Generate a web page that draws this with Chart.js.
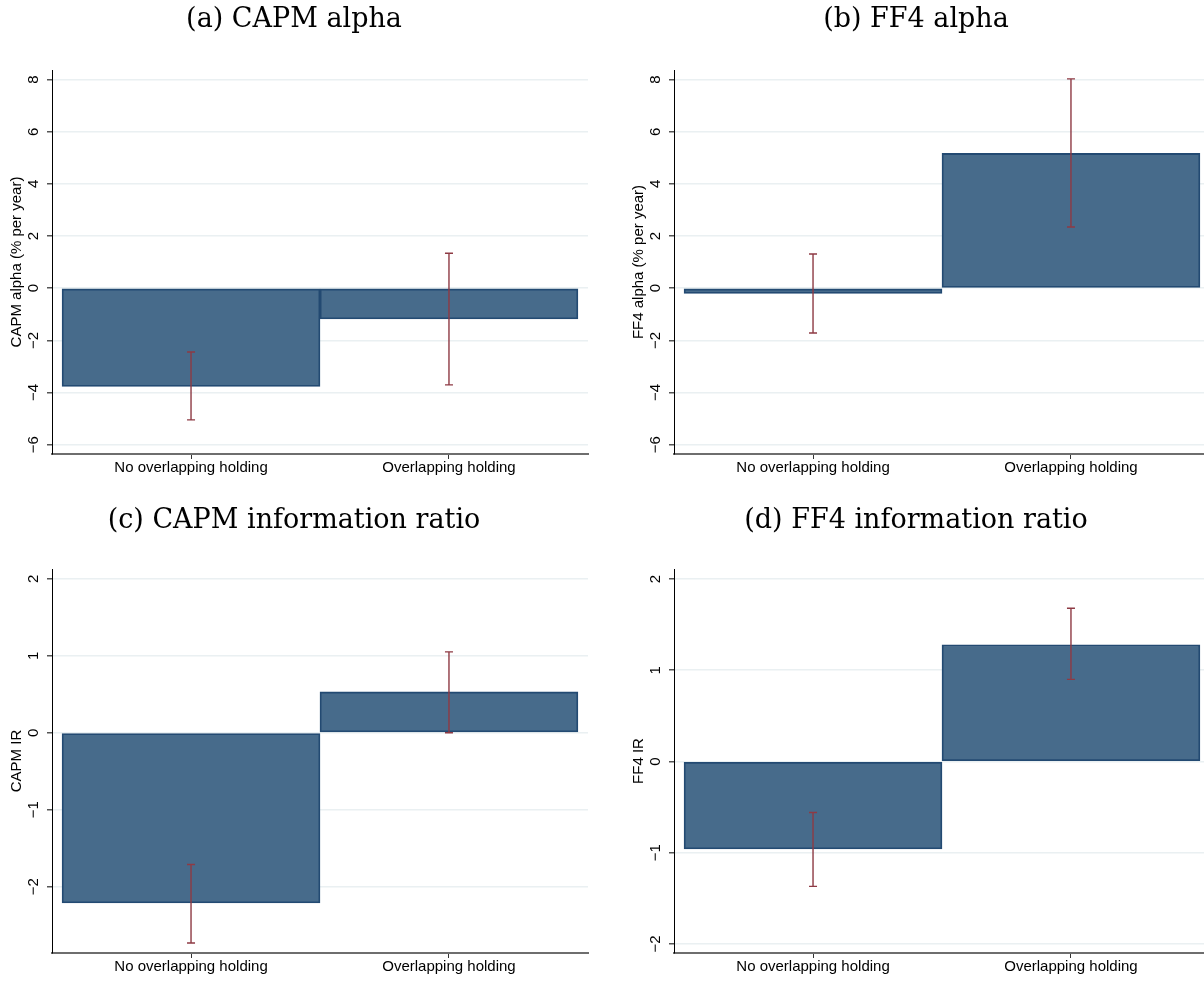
<!DOCTYPE html>
<html><head><meta charset="utf-8">
<script src="https://cdn.jsdelivr.net/npm/chart.js@4"></script>
<style>
html,body{margin:0;padding:0;background:#fff;overflow:hidden;width:1204px;height:983px;}
canvas{position:absolute;display:block;}
</style></head><body>
<canvas id="ca" width="602" height="499" style="left:0;top:0;width:602px;height:499px"></canvas>
<canvas id="cb" width="602" height="499" style="left:622px;top:0;width:602px;height:499px"></canvas>
<canvas id="cc" width="602" height="499" style="left:0;top:499px;width:602px;height:499px"></canvas>
<canvas id="cd" width="602" height="499" style="left:622px;top:499px;width:602px;height:499px"></canvas>
<script>
const categories = ["No overlapping holding", "Overlapping holding"];

const capmAlpha   = [-3.77, -1.18];
const capmAlphaLo = [-5.05, -3.71];
const capmAlphaHi = [-2.45, 1.34];

const ff4Alpha    = [-0.20, 5.17];
const ff4AlphaLo  = [-1.72, 2.35];
const ff4AlphaHi  = [1.31, 8.03];

const capmIR      = [-2.21, 0.53];
const capmIRLo    = [-2.73, 0.00];
const capmIRHi    = [-1.71, 1.05];

const ff4IR       = [-0.96, 1.28];
const ff4IRLo     = [-1.37, 0.90];
const ff4IRHi     = [-0.56, 1.68];

const alphaTicks = [-6, -4, -2, 0, 2, 4, 6, 8];
const irTicks = [-2, -1, 0, 1, 2];

const errorBarPlugin = {
  id: 'errbars',
  afterDatasetsDraw(chart) {
    const {ctx} = chart;
    const x = chart.scales.x, y = chart.scales.y;
    const ds = chart.data.datasets[0];
    ctx.save();
    ctx.strokeStyle = '#8e3a44';
    ctx.lineWidth = 1.4;
    ds.errLo.forEach((l, i) => {
      const px = x.getPixelForValue(i);
      const pl = y.getPixelForValue(l);
      const ph = y.getPixelForValue(ds.errHi[i]);
      ctx.beginPath();
      ctx.moveTo(px, pl); ctx.lineTo(px, ph);
      ctx.moveTo(px - 4, pl); ctx.lineTo(px + 4, pl);
      ctx.moveTo(px - 4, ph); ctx.lineTo(px + 4, ph);
      ctx.stroke();
    });
    ctx.restore();
  }
};

const sans = 'Liberation Sans';

function makePanel(id, title, yTitle, vals, lo, hi, ymin, ymax, ticks, padTop) {
  new Chart(document.getElementById(id), {
    type: 'bar',
    data: {
      datasets: [{
        data: vals.map((v, i) => ({x: i, y: v})),
        backgroundColor: '#476b8b',
        borderColor: '#234a72',
        borderWidth: 1.8,
        borderSkipped: false,
        categoryPercentage: 1,
        barPercentage: 1,
        errLo: lo,
        errHi: hi
      }]
    },
    options: {
      responsive: false,
      animation: false,
      layout: {padding: {left: 0, right: 14, top: 0, bottom: 0}},
      plugins: {
        legend: {display: false},
        tooltip: {enabled: false},
        title: {
          display: true,
          text: title,
          color: '#000',
          font: {family: 'DejaVu Serif', size: 27, weight: 'normal', lineHeight: 1},
          padding: {top: padTop, bottom: 43 - padTop}
        }
      },
      scales: {
        x: {
          type: 'linear',
          offset: false,
          min: -0.539,
          max: 1.539,
          afterBuildTicks: s => { s.ticks = categories.map((c, i) => ({value: i})); },
          afterFit: s => { s.height = 45; },
          ticks: {
            callback: v => categories[v],
            color: '#000',
            font: {family: sans, size: 15},
            padding: 0,
            minRotation: 0, maxRotation: 0, autoSkip: false
          },
          grid: {offset: false, drawOnChartArea: false, drawTicks: true, tickLength: 5, tickColor: '#333', lineWidth: 1},
          border: {display: true, color: '#6e6e6e', width: 2}
        },
        y: {
          min: ymin,
          max: ymax,
          afterBuildTicks: s => { s.ticks = ticks.map(v => ({value: v})); },
          afterFit: s => { s.width = 52; },
          ticks: {
            callback: v => String(v).replace('-', '\u2212'),
            color: '#000',
            font: {family: sans, size: 15},
            minRotation: 90, maxRotation: 90,
            crossAlign: 'center',
            padding: 5
          },
          grid: {color: '#eaf0f2', lineWidth: 1.5, tickLength: 5, tickColor: '#555'},
          border: {display: true, color: '#000', width: 1},
          title: {
            display: true,
            text: yTitle,
            color: '#000',
            font: {family: sans, size: 15, lineHeight: 1.2},
            padding: {top: 8, bottom: 0}
          }
        }
      }
    },
    plugins: [errorBarPlugin]
  });
}

makePanel('ca', '(a) CAPM alpha', 'CAPM alpha (% per year)', capmAlpha, capmAlphaLo, capmAlphaHi, -6.36, 8.37, alphaTicks, 6);
makePanel('cb', '(b) FF4 alpha', 'FF4 alpha (% per year)', ff4Alpha, ff4AlphaLo, ff4AlphaHi, -6.36, 8.37, alphaTicks, 6);
makePanel('cc', '(c) CAPM information ratio', 'CAPM IR', capmIR, capmIRLo, capmIRHi, -2.86, 2.126, irTicks, 8);
makePanel('cd', '(d) FF4 information ratio', 'FF4 IR', ff4IR, ff4IRLo, ff4IRHi, -2.10, 2.11, irTicks, 8);
</script>
</body></html>
